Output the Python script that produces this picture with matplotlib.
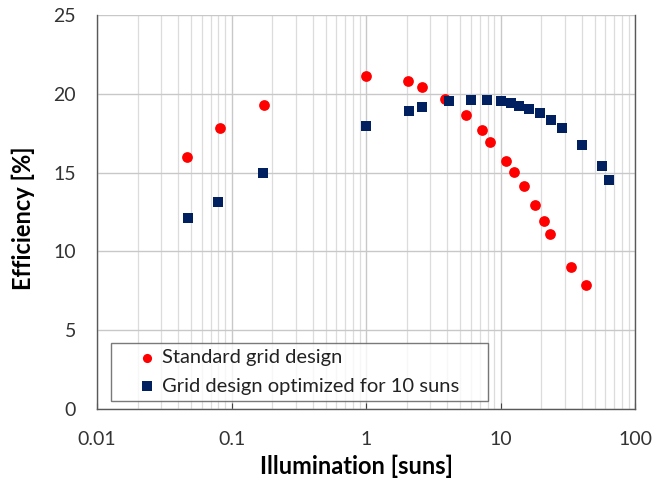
import matplotlib
matplotlib.use("Agg")
import matplotlib.pyplot as plt
from matplotlib.ticker import LogLocator, FixedLocator, NullFormatter

# Standard grid design
std_x = [0.0465, 0.0816, 0.175, 1.0, 2.05, 2.60, 3.87, 5.57, 7.25, 8.40,
         11.0, 12.5, 14.9, 17.9, 20.9, 23.3, 33.6, 43.5]
std_y = [16.0, 17.8, 19.3, 21.1, 20.8, 20.45, 19.67, 18.64, 17.68, 16.94,
         15.76, 15.04, 14.13, 12.96, 11.93, 11.10, 9.01, 7.85]

# Grid design optimized for 10 suns
opt_x = [0.0475, 0.0798, 0.172, 1.0, 2.08, 2.62, 4.14, 6.03, 7.94, 10.1,
         11.97, 13.8, 16.3, 19.6, 23.6, 28.5, 40.4, 56.5, 64.4]
opt_y = [12.12, 13.13, 14.96, 17.98, 18.93, 19.18, 19.52, 19.63, 19.61, 19.52,
         19.44, 19.23, 19.02, 18.76, 18.36, 17.85, 16.73, 15.42, 14.55]

x_ticks = [0.01, 0.1, 1, 10, 100]
x_tick_labels = ["0.01", "0.1", "1", "10", "100"]
y_ticks = [0, 5, 10, 15, 20, 25]

plt.rcParams['font.family'] = ['Lato', 'DejaVu Sans']

fig = plt.figure(figsize=(6.52, 4.82), dpi=100)
ax = fig.add_axes([0.1488, 0.1515, 0.8252, 0.8174])

ax.scatter(std_x, std_y, s=60, marker='o', color='#FF0000', linewidths=0,
           zorder=3, label='Standard grid design')
ax.scatter(opt_x, opt_y, s=62, marker='s', color='#002060', linewidths=0,
           zorder=3, label='Grid design optimized for 10 suns')

ax.set_xscale('log')
ax.set_xlim(0.01, 100)
ax.set_ylim(0, 25)
ax.set_xticks(x_ticks)
ax.set_xticklabels(x_tick_labels)
ax.xaxis.set_minor_locator(LogLocator(base=10, subs=range(2, 10)))
ax.xaxis.set_minor_formatter(NullFormatter())
ax.yaxis.set_major_locator(FixedLocator(y_ticks))

ax.grid(True, which='major', color='#c8c8c8', linewidth=1.0)
ax.grid(True, which='minor', axis='x', color='#dcdcdc', linewidth=0.9)
ax.set_axisbelow(True)

ax.tick_params(axis='both', which='major', direction='in', length=4,
               labelsize=14, colors='#404040', labelcolor='#333333')
ax.tick_params(axis='x', which='major', pad=16)
ax.tick_params(axis='x', which='minor', length=0)
ax.tick_params(axis='y', length=0, pad=15)

for side in ['left', 'bottom', 'right', 'top']:
    ax.spines[side].set_color('#595959')
    ax.spines[side].set_linewidth(1.0)
ax.spines['top'].set_visible(False)

ax.set_xlabel('Illumination [suns]', fontsize=17, fontweight='bold')
ax.set_ylabel('Efficiency [%]', fontsize=17, fontweight='bold')
ax.xaxis.set_label_coords(0.482, -0.115)
ax.yaxis.set_label_coords(-0.115, 0.485)

leg = ax.legend(loc='lower left', bbox_to_anchor=(0.026, 0.021, 0.70, 0.155),
                mode='expand', borderaxespad=0, fontsize=14.5, frameon=True,
                fancybox=False, handlelength=3.0, handletextpad=-0.75,
                labelspacing=0.55, borderpad=0.3, scatterpoints=1,
                markerscale=0.85)
leg.get_frame().set_edgecolor('#595959')
leg.get_frame().set_linewidth(1.0)
for t in leg.get_texts():
    t.set_color('#222222')

fig.savefig('out.png', dpi=100)
